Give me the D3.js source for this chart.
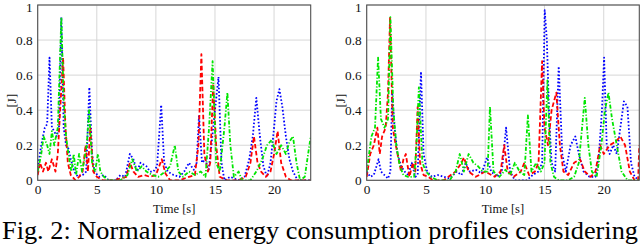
<!DOCTYPE html>
<html><head><meta charset="utf-8">
<script src="https://cdn.jsdelivr.net/npm/d3@7"></script>
<style>
html,body{margin:0;padding:0;background:#fff;}
svg{display:block;}
</style></head>
<body><svg id="c" width="640" height="246"></svg>
<script>
// ---- data (time [s], normalized energy [J]) ----
const xTicks = [0,5,10,15,20];
const yTicks = [0,0.2,0.4,0.6,0.8,1];

const leftBlueT = [0,0.3,0.6,0.8,1.0,1.2,1.4,1.6,1.8,2.0,2.2,2.4,2.6,2.8,3.1,3.4,3.8,4.1,4.37,4.6,4.8,5.2,5.6,6.0,6.6,7.0,7.4,7.8,8.1,8.4,8.7,9.2,9.5,9.8,10.1,10.45,10.7,11.0,11.5,12.0,12.4,12.8,13.2,13.45,13.65,13.9,14.2,14.45,14.7,15.0,15.3,15.55,15.8,16.3,17.0,17.5,17.9,18.2,18.5,18.8,19.1,19.4,19.7,20.0,20.2,20.45,20.7,21.0,21.3,21.6,22.0,22.5,23.1];
const leftBlueV = [0.07,0.2,0.3,0.32,0.70,0.3,0.28,0.25,0.3,0.93,0.3,0.2,0.18,0.12,0.05,0.02,0.03,0.05,0.53,0.15,0.05,0.02,0.03,0.0,0.0,0.03,0.02,0.15,0.12,0.05,0.1,0.08,0.05,0.05,0.08,0.43,0.1,0.05,0.03,0.02,0.05,0.1,0.06,0.1,0.37,0.1,0.12,0.05,0.2,0.4,0.59,0.1,0.0,0.02,0.0,0.02,0.12,0.25,0.47,0.25,0.08,0.02,0.1,0.3,0.45,0.52,0.42,0.25,0.12,0.05,0.0,0.0,0.0];

const leftRedT = [0,0.2,0.45,0.7,0.9,1.2,1.5,1.7,1.9,2.15,2.35,2.55,2.8,3.2,3.5,3.8,4.05,4.25,4.45,4.7,5.0,5.5,6.5,7.5,7.8,8.1,8.5,9.0,9.5,10.0,10.5,10.8,11.2,12.0,12.8,13.3,13.6,13.85,14.1,14.4,14.6,14.85,15.1,15.4,16.0,17.0,17.6,18.0,18.3,18.6,18.9,19.3,19.7,20.0,20.3,20.6,21.0,21.4,22,23.1];
const leftRedV = [0.03,0.1,0.05,0.1,0.05,0.12,0.05,0.15,0.4,0.7,0.3,0.1,0.03,0.0,0.02,0.05,0.2,0.05,0.3,0.05,0.02,0.0,0.0,0.02,0.1,0.05,0.02,0.03,0.02,0.03,0.12,0.04,0.0,0.0,0.02,0.03,0.2,0.72,0.15,0.05,0.1,0.55,0.2,0.02,0.0,0.0,0.02,0.1,0.25,0.1,0.05,0.02,0.05,0.15,0.28,0.1,0.02,0.0,0.0,0.0];

const leftGreenT = [0,0.3,0.5,0.8,1.0,1.2,1.4,1.7,2.0,2.2,2.4,2.6,2.85,3.05,3.25,3.5,3.75,3.95,4.15,4.35,4.6,4.85,5.1,5.3,5.6,6.0,7.0,7.6,8.0,8.4,8.8,9.2,9.7,10.2,10.8,11.2,11.6,11.9,12.3,12.8,13.3,13.8,14.2,14.5,14.8,15.1,15.4,15.8,16.05,16.3,16.6,17.0,17.3,18.0,18.5,19.0,19.4,19.8,20.2,20.6,21.0,21.3,21.6,21.9,22.2,22.6,23.1];
const leftGreenV = [0.05,0.15,0.25,0.2,0.15,0.28,0.2,0.3,0.93,0.45,0.25,0.15,0.05,0.15,0.03,0.15,0.05,0.12,0.2,0.4,0.1,0.05,0.15,0.05,0.02,0.0,0.0,0.03,0.12,0.05,0.08,0.05,0.03,0.02,0.05,0.08,0.2,0.05,0.02,0.05,0.03,0.05,0.02,0.3,0.68,0.1,0.05,0.3,0.5,0.2,0.02,0.05,0.0,0.0,0.05,0.12,0.2,0.23,0.15,0.2,0.15,0.22,0.25,0.1,0.0,0.02,0.25];

const rightBlueT = [0,0.3,0.6,1.0,1.2,1.5,1.8,2.0,2.15,2.35,2.6,2.9,3.2,3.5,3.8,4.1,4.3,4.58,4.8,5.1,5.5,6.0,6.5,7.0,7.6,8.0,8.35,8.7,9.2,9.7,10.15,10.5,11.0,11.4,11.76,12.1,12.5,13.5,14.0,14.5,14.8,15.02,15.2,15.4,15.6,15.9,16.2,16.5,16.8,17.2,17.6,17.9,18.3,18.8,19.3,19.6,19.85,20.03,20.25,20.5,20.8,21.1,21.4,21.7,22.0,22.3,22.6,23.0];
const rightBlueV = [0.05,0.02,0.03,0.12,0.05,0.03,0.01,0.05,0.5,0.3,0.15,0.08,0.05,0.03,0.1,0.02,0.03,0.62,0.15,0.05,0.02,0.03,0.02,0.01,0.05,0.03,0.1,0.05,0.06,0.04,0.13,0.05,0.02,0.05,0.3,0.05,0.0,0.0,0.03,0.05,0.1,0.97,0.8,0.35,0.1,0.05,0.65,0.15,0.05,0.2,0.25,0.15,0.05,0.02,0.02,0.15,0.4,0.7,0.2,0.15,0.2,0.15,0.3,0.45,0.42,0.1,0.02,0.0];

const rightRedT = [0,0.3,0.6,0.9,1.1,1.3,1.6,1.8,1.97,2.2,2.4,2.6,2.9,3.1,3.3,3.6,3.9,4.1,4.3,4.5,4.8,5.2,5.6,6.5,7.5,8.0,8.2,8.6,9.2,10.0,10.8,11.3,11.6,11.9,12.4,13.0,13.3,13.7,14.2,14.5,14.8,15.0,15.3,15.6,16.0,16.3,16.6,17.0,17.5,18.0,18.4,18.9,19.3,19.7,20.0,20.5,21.0,21.4,21.8,22.2,22.6,22.9,23.0];
const rightRedV = [0.02,0.15,0.2,0.3,0.15,0.25,0.3,0.5,0.93,0.3,0.22,0.15,0.05,0.12,0.15,0.02,0.1,0.05,0.42,0.1,0.03,0.02,0.0,0.0,0.05,0.1,0.13,0.05,0.02,0.05,0.02,0.05,0.2,0.05,0.02,0.05,0.1,0.03,0.05,0.1,0.68,0.3,0.2,0.4,0.5,0.2,0.05,0.03,0.1,0.12,0.05,0.02,0.05,0.2,0.15,0.2,0.22,0.25,0.2,0.05,0.0,0.0,0.2];

const rightGreenT = [0,0.4,0.7,0.96,1.2,1.5,1.8,2.0,2.25,2.5,2.8,3.1,3.5,4.0,4.2,4.4,4.7,5.0,5.4,6.0,7.0,7.5,7.85,8.2,8.6,9.0,9.4,9.8,10.2,10.4,10.7,11.2,11.7,12.1,12.5,12.9,13.3,13.6,13.9,14.3,14.7,15.0,15.25,15.5,15.8,16.2,17.0,17.5,17.9,18.4,18.7,19.0,19.4,19.8,20.1,20.4,20.7,21.1,21.5,22.0,23.0];
const rightGreenV = [0.05,0.25,0.3,0.7,0.35,0.3,0.35,0.93,0.4,0.2,0.08,0.03,0.02,0.02,0.2,0.53,0.1,0.05,0.02,0.0,0.0,0.05,0.15,0.05,0.15,0.1,0.08,0.05,0.05,0.42,0.05,0.02,0.06,0.03,0.1,0.05,0.03,0.37,0.05,0.1,0.05,0.1,0.57,0.1,0.02,0.0,0.0,0.02,0.1,0.47,0.2,0.05,0.02,0.2,0.4,0.5,0.35,0.2,0.05,0.0,0.0];

const xLabel = "Time [s]";
const yLabel = "[J]";
const caption = "Fig. 2: Normalized energy consumption profiles considering";

// ---- drawing ----
const FONT = "Liberation Serif";
const svg = d3.select("#c");
const zip = (T, V) => T.map((t, i) => [t, V[i]]);

function panel(left, right, xMax, series) {
  const top = 5, bottom = 180.3;
  const x = d3.scaleLinear().domain([0, xMax]).range([left, right]);
  const y = d3.scaleLinear().domain([0, 1]).range([bottom, top]);
  const g = svg.append("g");
  g.append("g").selectAll("line").data(xTicks).join("line")
    .attr("x1", d => x(d)).attr("x2", d => x(d)).attr("y1", top).attr("y2", bottom)
    .attr("stroke", "#d2d2d2").attr("stroke-width", 0.9);
  g.append("g").selectAll("line").data(yTicks).join("line")
    .attr("x1", left).attr("x2", right).attr("y1", d => y(d)).attr("y2", d => y(d))
    .attr("stroke", "#d2d2d2").attr("stroke-width", 0.9);
  const id = "clip" + Math.round(left);
  svg.append("clipPath").attr("id", id).append("rect")
    .attr("x", left).attr("y", top - 3).attr("width", right - left).attr("height", bottom - top + 3);
  const line = d3.line().x(d => x(d[0])).y(d => y(d[1]));
  const lg = g.append("g").attr("clip-path", `url(#${id})`);
  series.forEach(s => {
    lg.append("path").attr("d", line(s.data)).attr("fill", "none")
      .attr("stroke", s.color).attr("stroke-width", 1.8)
      .attr("stroke-dasharray", s.dash).attr("stroke-linejoin", "round");
  });
  g.append("rect").attr("x", left).attr("y", top).attr("width", right - left).attr("height", bottom - top)
    .attr("fill", "none").attr("stroke", "#505050").attr("stroke-width", 1.1);
  const ax = g.append("g").attr("transform", `translate(0,${bottom})`)
    .call(d3.axisBottom(x).tickValues(xTicks).tickSize(0).tickPadding(4).tickFormat(d3.format("d")));
  ax.select(".domain").remove();
  ax.attr("font-family", FONT).attr("font-size", 13.3);
  ax.selectAll("text").attr("fill", "#111").attr("font-family", FONT);
  const ay = g.append("g").attr("transform", `translate(${left},0)`)
    .call(d3.axisLeft(y).tickValues(yTicks).tickSize(0).tickPadding(5)
      .tickFormat(d => d === 0 || d === 1 ? String(d) : d3.format(".1f")(d)));
  ay.select(".domain").remove();
  ay.attr("font-family", FONT).attr("font-size", 13.3);
  ay.selectAll("text").attr("fill", "#111").attr("font-family", FONT)
    .attr("dy", d => d === 1 ? "0.45em" : "0.32em");
  g.append("text").attr("x", (left + right) / 2).attr("y", 213).attr("font-family", FONT)
    .attr("text-anchor", "middle").attr("font-size", 12.5).attr("fill", "#111").text(xLabel);
  g.append("text").attr("transform", `translate(${left - 26},${(top + bottom) / 2 + 8}) rotate(-90)`)
    .attr("font-family", FONT)
    .attr("text-anchor", "middle").attr("dy", "0.35em").attr("font-size", 13).attr("fill", "#111").text(yLabel);
}

const dotted = "1.6,2", dashed = "4.5,2.5", dashdot = "4,1.8,1.2,1.8";
panel(37.7, 310.7, 23.1, [
  {data: zip(leftBlueT, leftBlueV), color: "#0000ff", dash: dotted},
  {data: zip(leftRedT, leftRedV), color: "#ff0000", dash: dashed},
  {data: zip(leftGreenT, leftGreenV), color: "#00e600", dash: dashdot}
]);
panel(366.7, 639.3, 23.0, [
  {data: zip(rightBlueT, rightBlueV), color: "#0000ff", dash: dotted},
  {data: zip(rightRedT, rightRedV), color: "#ff0000", dash: dashed},
  {data: zip(rightGreenT, rightGreenV), color: "#00e600", dash: dashdot}
]);

svg.append("text").attr("x", 2).attr("y", 239).attr("font-family", FONT).attr("font-size", 25).attr("fill", "#000")
  .attr("textLength", 636).attr("lengthAdjust", "spacingAndGlyphs").text(caption);
</script></body></html>
